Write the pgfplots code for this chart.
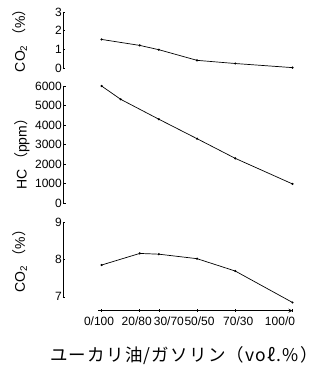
\documentclass[border=0pt]{standalone}
\usepackage{pgfplots}
\pgfplotsset{compat=1.18}
\usepackage{fontspec}
\setmainfont{Liberation Sans}
\newfontfamily\cjk{Noto Sans CJK JP}
\newfontfamily\cjkwide[LetterSpace=7]{Noto Sans CJK JP}
\begin{document}
\begin{tikzpicture}
\useasboundingbox (0pt,0pt) rectangle (321pt,377pt);
\pgfplotsset{
  panel/.style={
    scale only axis, width=229.5pt,
    xmin=-20.2, xmax=100,
    axis y line=left,
    axis line style={-, line width=0.8pt},
    tick align=inside, major tick length=2.5pt,
    tick style={line width=0.6pt, black},
    ytick pos=left,
    /pgf/number format/assume math mode=true,
    tick label style={font=\fontsize{12}{12}\selectfont},
    yticklabel style={inner sep=1pt},
    /pgf/number format/1000 sep={},
    ylabel style={anchor=center, font=\fontsize{14}{14}\selectfont},
    clip=false,
  },
  ser/.style={black, line width=0.7pt, mark=*, mark size=0.7pt},
}
% top panel
\begin{axis}[panel, axis x line=none, at={(63pt,309pt)}, anchor=south west, height=56pt,
  ymin=0, ymax=3, ytick={0,1,2,3},
  ylabel={CO\textsubscript{2}\,{\cjk （}\%{\cjk ）}},
  ylabel style={at={(axis description cs:-0.187,0.55)}}]
\addplot[ser] coordinates {(0,1.53) (20,1.21) (30,0.98) (50,0.41) (70,0.24) (100,0.02)};
\end{axis}
% HC panel
\begin{axis}[panel, axis x line=none, at={(63pt,173.7pt)}, anchor=south west, height=117.3pt,
  ymin=0, ymax=6000, ytick={0,1000,2000,3000,4000,5000,6000},
  ylabel={HC\,{\cjk （}ppm{\cjk ）}},
  ylabel style={at={(axis description cs:-0.178,0.45)}}]
\addplot[ser] coordinates {(0,6000) (10,5320) (30,4300) (50,3305) (70,2300) (100,990)};
\end{axis}
% CO2 panel
\begin{axis}[panel, at={(63pt,66.3pt)}, anchor=south west, height=88.7pt,
  ymin=6.63, ymax=9, ytick={7,8,9},
  axis x line=bottom,
  y axis line style={shorten <=14pt},
  x axis line style={shorten <=35pt},
  xtick={0,20,30,50,70,100},
  xticklabels={{0/100\hspace*{5pt}},{20/80\hspace*{6pt}},{\hspace*{20pt}30/70},{\hspace*{5pt}50/50},{\hspace*{6pt}70/30},{100/0\hspace*{25pt}}},
  xtick pos=bottom,
  xticklabel style={inner sep=1pt, yshift=-4pt},
  ylabel={CO\textsubscript{2}\,{\cjk （}\%{\cjk ）}},
  ylabel style={at={(axis description cs:-0.187,0.6)}}]
\addplot[ser] coordinates {(0,7.85) (20,8.16) (30,8.14) (50,8.02) (70,7.69) (100,6.85)};
\node[font={\cjkwide\fontsize{17.5}{17.5}\selectfont}, anchor=west, inner sep=0pt] at (axis description cs:-0.057,-0.51) {ユーカリ油/ガソリン（voℓ.\%）};
\end{axis}
\end{tikzpicture}
\end{document}
